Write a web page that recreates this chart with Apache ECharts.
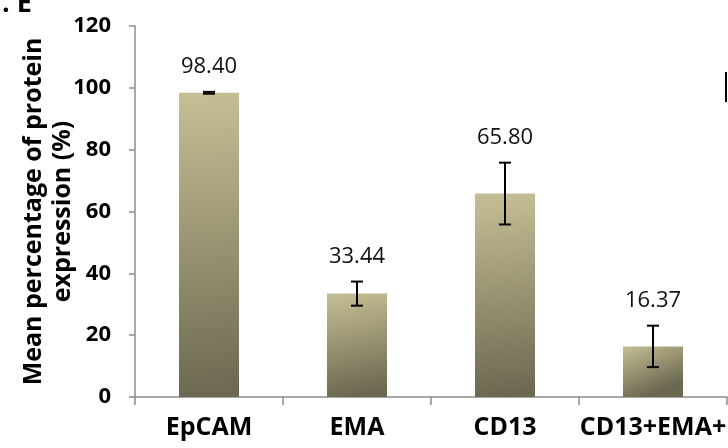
<!DOCTYPE html>
<html>
<head>
<meta charset="utf-8">
<script src="https://cdn.jsdelivr.net/npm/echarts@6/dist/echarts.min.js"></script>
<style>html,body{margin:0;padding:0;background:#fff}#c{width:728px;height:448px}</style>
</head>
<body>
<div id="c"></div>
<script>
const categories = ['EpCAM', 'EMA', 'CD13', 'CD13+EMA+'];
const means = [98.40, 33.44, 65.80, 16.37];
const errors = [0.3, 3.9, 10.0, 6.7];
const labels = ['98.40', '33.44', '65.80', '16.37'];
const yTicks = [0, 20, 40, 60, 80, 100, 120];

const chart = echarts.init(document.getElementById('c'), null, {renderer: 'canvas'});
const errData = categories.map((c, i) => [i, means[i] - errors[i], means[i] + errors[i]]);

chart.setOption({
  animation: false,
  backgroundColor: '#fff',
  grid: {left: 135, right: 1, top: 26, bottom: 51, containLabel: false, outerBoundsMode: 'none'},
  xAxis: {
    type: 'category',
    data: categories,
    axisLine: {lineStyle: {color: '#8c8c8c', width: 1.5}},
    axisTick: {show: true, length: 8, alignWithLabel: false, lineStyle: {color: '#8c8c8c', width: 1.5}},
    axisLabel: {interval: 0, margin: 18, color: '#000', fontFamily: 'Open Sans', fontWeight: 'bold', fontSize: 25}
  },
  yAxis: {
    type: 'value',
    min: 0, max: 120, interval: 20,
    name: 'Mean percentage of protein\nexpression (%)',
    nameLocation: 'middle',
    nameGap: 58,
    nameMoveOverlap: false,
    nameRotate: 90,
    nameTextStyle: {color: '#000', fontFamily: 'Open Sans', fontWeight: 'bold', fontSize: 25, lineHeight: 29},
    splitLine: {show: false},
    axisLine: {show: true, lineStyle: {color: '#8c8c8c', width: 1.5}},
    axisTick: {show: true, length: 6, lineStyle: {color: '#8c8c8c', width: 1.5}},
    axisLabel: {margin: 24, color: '#000', fontFamily: 'Open Sans', fontWeight: 'bold', fontSize: 22,
      formatter: v => yTicks.includes(v) ? String(v) : ''}
  },
  series: [
    {
      type: 'bar',
      data: means,
      barWidth: 60,
      itemStyle: {
        color: new echarts.graphic.LinearGradient(0, 0, 0.35, 1, [
          {offset: 0, color: '#c6bf95'},
          {offset: 1, color: '#6c6850'}
        ])
      }
    },
    {
      type: 'custom',
      data: errData,
      z: 10,
      renderItem: function (params, api) {
        const x = api.value(0);
        const lo = api.coord([x, api.value(1)]);
        const hi = api.coord([x, api.value(2)]);
        const cap = 6;
        const st = {stroke: '#000', lineWidth: 2};
        return {
          type: 'group',
          children: [
            {type: 'line', shape: {x1: hi[0], y1: hi[1], x2: lo[0], y2: lo[1]}, style: st},
            {type: 'line', shape: {x1: hi[0] - cap, y1: hi[1], x2: hi[0] + cap, y2: hi[1]}, style: st},
            {type: 'line', shape: {x1: lo[0] - cap, y1: lo[1], x2: lo[0] + cap, y2: lo[1]}, style: st},
            {type: 'text', style: {text: labels[params.dataIndex], x: hi[0], y: hi[1] - 25, align: 'center', verticalAlign: 'middle',
              fill: '#111', font: '22px "Open Sans"'}}
          ]
        };
      }
    }
  ],
  graphic: [
    {type: 'text', left: 2, top: -9, style: {text: '. E', fill: '#000', font: 'bold 27px "Open Sans"'}},
    {type: 'rect', shape: {x: 725, y: 72, width: 2, height: 30}, style: {fill: '#000'}}
  ]
});
</script>
</body>
</html>
